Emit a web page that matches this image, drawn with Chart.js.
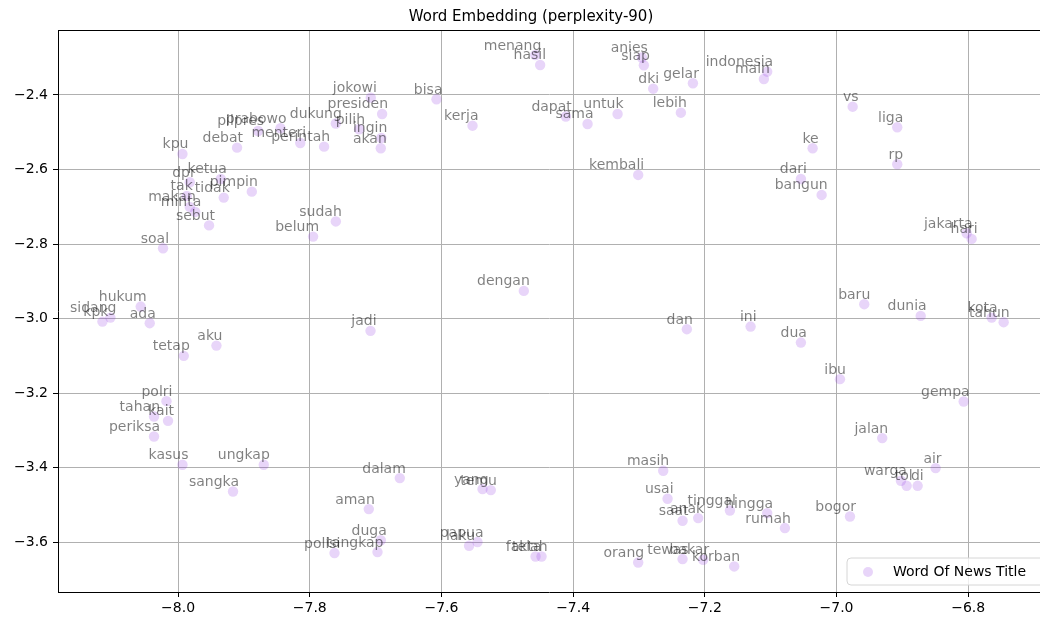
<!DOCTYPE html>
<html>
<head>
<meta charset="utf-8">
<script src="https://cdn.jsdelivr.net/npm/chart.js@4/dist/chart.umd.min.js"></script>
<style>
  html, body { margin: 0; padding: 0; background: #ffffff; }
  #wrap { width: 1040px; height: 620px; position: relative; }
</style>
</head>
<body>
<div id="wrap"><canvas id="c" width="1040" height="620"></canvas></div>
<script>
// t-SNE projection of title words
const chartTitle = 'Word Embedding (perplexity-90)';
const seriesName = 'Word Of News Title';

const words = [
  'kpu', 'debat', 'pilpres', 'prabowo', 'menteri', 'perintah', 'dukung', 'jokowi', 'presiden', 'pilih',
  'ingin', 'akan', 'bisa', 'kerja', 'menang', 'hasil', 'dapat', 'sama', 'untuk', 'anies',
  'siap', 'dki', 'gelar', 'lebih', 'indonesia', 'main', 'kembali', 'vs', 'liga', 'ke',
  'rp', 'dari', 'bangun', 'jakarta', 'hari', 'baru', 'dunia', 'kota', 'tahun', 'dua',
  'ibu', 'gempa', 'dan', 'ini', 'dengan', 'jadi', 'sudah', 'belum', 'soal', 'hukum',
  'sidang', 'kpk', 'ada', 'aku', 'tetap', 'polri', 'tahan', 'kait', 'periksa', 'kasus',
  'ungkap', 'sangka', 'dalam', 'aman', 'duga', 'tangkap', 'polisi', 'laku', 'papua', 'yang',
  'temu', 'fakta', 'telah', 'masih', 'usai', 'saat', 'anak', 'tinggal', 'hingga', 'rumah',
  'orang', 'tewas', 'bakar', 'korban', 'jalan', 'air', 'warga', 'tol', 'di', 'bogor',
  'ketua', 'dpr', 'pimpin', 'tidak', 'tak', 'makan', 'minta', 'sebut'
];

const xs = [
  -7.9933, -7.9104, -7.8785, -7.8444, -7.8144, -7.7782, -7.7604, -7.7073, -7.6901, -7.7250,
  -7.6913, -7.6921, -7.6075, -7.5528, -7.4574, -7.4501, -7.4111, -7.3781, -7.3325, -7.2956,
  -7.2926, -7.2784, -7.2181, -7.2364, -7.1053, -7.1103, -7.3012, -6.9755, -6.9078, -7.0363,
  -6.9078, -7.0541, -7.0226, -6.8024, -6.7948, -6.9579, -6.8722, -6.7644, -6.7462, -7.0541,
  -6.9948, -6.8069, -7.2273, -7.1305, -7.4749, -7.7077, -7.7604, -7.7949, -8.0228, -8.0567,
  -8.1027, -8.1148, -8.0430, -7.9417, -7.9913, -8.0176, -8.0365, -8.0152, -8.0365, -7.9933,
  -7.8698, -7.9165, -7.6632, -7.7103, -7.6921, -7.6971, -7.7624, -7.5580, -7.5452, -7.5376,
  -7.5250, -7.4571, -7.4480, -7.2632, -7.2566, -7.2338, -7.2101, -7.1619, -7.1053, -7.0784,
  -7.3012, -7.2338, -7.2025, -7.1554, -6.9306, -6.8495, -6.9022, -6.8935, -6.8768, -6.9796,
  -7.9351, -7.9822, -7.8880, -7.9306, -7.9868, -7.9822, -7.9739, -7.9529
];

const ys = [
  -2.5583, -2.5414, -2.4966, -2.4893, -2.5288, -2.5387, -2.4765, -2.4072, -2.4510, -2.4920,
  -2.5154, -2.5430, -2.4115, -2.4824, -2.2927, -2.3195, -2.4577, -2.4778, -2.4510, -2.2994,
  -2.3203, -2.3831, -2.3686, -2.4475, -2.3375, -2.3571, -2.6146, -2.4314, -2.4867, -2.5430,
  -2.5859, -2.6254, -2.6683, -2.7710, -2.7863, -2.9615, -2.9929, -2.9975, -3.0098, -3.0645,
  -3.1627, -3.2228, -3.0286, -3.0216, -2.9258, -3.0331, -2.7394, -2.7801, -2.8113, -2.9679,
  -2.9975, -3.0082, -3.0125, -3.0726, -3.1002, -3.2217, -3.2630, -3.2746, -3.3167, -3.3926,
  -3.3926, -3.4643, -3.4283, -3.5115, -3.5952, -3.6268, -3.6295, -3.6099, -3.6000, -3.4578,
  -3.4605, -3.6387, -3.6387, -3.4087, -3.4838, -3.5429, -3.5356, -3.5152, -3.5222, -3.5624,
  -3.6547, -3.6456, -3.6475, -3.6654, -3.3210, -3.4015, -3.4356, -3.4490, -3.4490, -3.5313,
  -2.6254, -2.6342, -2.6594, -2.6755, -2.6710, -2.7005, -2.7139, -2.7501
];

const xTicks = [-8.0, -7.8, -7.6, -7.4, -7.2, -7.0, -6.8];
const yTicks = [-2.4, -2.6, -2.8, -3.0, -3.2, -3.4, -3.6];
const xRange = [-8.1823, -6.6910];
const yRange = [-3.7340, -2.2256];

const FONT = '"DejaVu Sans", "Liberation Sans", sans-serif';
const pointFill = 'rgba(138, 43, 226, 0.2)';

const points = words.map((w, i) => ({ x: xs[i], y: ys[i], word: w }));

const fmtTick = v => (v < 0 ? '\u2212' : '') + Math.abs(v).toFixed(1);

// word annotations, title, top spine and legend box
const decorations = {
  id: 'decorations',
  afterDatasetsDraw(chart) {
    const ctx = chart.ctx;
    const area = chart.chartArea;
    const meta = chart.getDatasetMeta(0);

    ctx.save();
    ctx.beginPath();
    ctx.rect(area.left, area.top, area.right - area.left, area.bottom - area.top);
    ctx.clip();
    ctx.font = '14px ' + FONT;
    ctx.fillStyle = 'rgba(0,0,0,0.5)';
    ctx.textAlign = 'right';
    ctx.textBaseline = 'alphabetic';
    meta.data.forEach((el, i) => {
      ctx.fillText(points[i].word, el.x + 6, el.y - 5.5);
    });
    ctx.restore();
  },
  afterDraw(chart) {
    const ctx = chart.ctx;
    const area = chart.chartArea;

    // top spine
    ctx.save();
    ctx.strokeStyle = '#000000';
    ctx.lineWidth = 1;
    ctx.beginPath();
    ctx.moveTo(area.left, area.top + 0.5);
    ctx.lineTo(area.right, area.top + 0.5);
    ctx.stroke();

    // title
    ctx.fillStyle = '#000000';
    ctx.font = '15px ' + FONT;
    ctx.textAlign = 'center';
    ctx.textBaseline = 'alphabetic';
    ctx.fillText(chartTitle, 531, area.top - 9);

    // legend
    const bx = area.right - 193, by = area.bottom - 34, bw = 215, bh = 27, r = 4;
    ctx.beginPath();
    ctx.moveTo(bx + r, by);
    ctx.lineTo(bx + bw - r, by);
    ctx.arcTo(bx + bw, by, bx + bw, by + r, r);
    ctx.lineTo(bx + bw, by + bh - r);
    ctx.arcTo(bx + bw, by + bh, bx + bw - r, by + bh, r);
    ctx.lineTo(bx + r, by + bh);
    ctx.arcTo(bx, by + bh, bx, by + bh - r, r);
    ctx.lineTo(bx, by + r);
    ctx.arcTo(bx, by, bx + r, by, r);
    ctx.closePath();
    ctx.fillStyle = 'rgba(255,255,255,0.8)';
    ctx.fill();
    ctx.strokeStyle = '#d6d6d6';
    ctx.lineWidth = 1;
    ctx.stroke();

    ctx.beginPath();
    ctx.arc(bx + 21, by + 14, 5, 0, Math.PI * 2);
    ctx.fillStyle = pointFill;
    ctx.fill();

    ctx.fillStyle = '#000000';
    ctx.font = '14px ' + FONT;
    ctx.textAlign = 'left';
    ctx.textBaseline = 'middle';
    ctx.fillText(seriesName, bx + 46, by + 14);
    ctx.restore();
  }
};

new Chart(document.getElementById('c'), {
  type: 'scatter',
  data: {
    datasets: [{
      label: seriesName,
      data: points,
      backgroundColor: pointFill,
      borderWidth: 0,
      pointRadius: 5.2,
      pointHoverRadius: 5.2
    }]
  },
  options: {
    responsive: false,
    animation: false,
    devicePixelRatio: 1,
    layout: { autoPadding: false, padding: { top: 30, left: 0, right: 0, bottom: 0 } },
    plugins: {
      legend: { display: false },
      title: { display: false },
      tooltip: { enabled: false }
    },
    scales: {
      x: {
        type: 'linear',
        min: xRange[0],
        max: xRange[1],
        afterBuildTicks: s => { s.ticks = xTicks.map(v => ({ value: v })); },
        afterFit: s => { s.height = 28; s.paddingLeft = 0; s.paddingRight = 0; },
        ticks: {
          callback: v => fmtTick(v),
          color: '#000000',
          font: { family: FONT, size: 14 },
          padding: 3,
          maxRotation: 0,
          autoSkip: false
        },
        grid: { color: '#b0b0b0', lineWidth: 1, tickColor: '#000000', tickLength: 5, drawTicks: true },
        border: { display: true, color: '#000000', width: 1 }
      },
      y: {
        type: 'linear',
        min: yRange[0],
        max: yRange[1],
        afterBuildTicks: s => { s.ticks = yTicks.map(v => ({ value: v })); },
        afterFit: s => { s.width = 58; s.paddingTop = 0; s.paddingBottom = 0; },
        ticks: {
          callback: v => fmtTick(v),
          color: '#000000',
          font: { family: FONT, size: 14 },
          padding: 5,
          autoSkip: false
        },
        grid: { color: '#b0b0b0', lineWidth: 1, tickColor: '#000000', tickLength: 5, drawTicks: true },
        border: { display: true, color: '#000000', width: 1 }
      }
    }
  },
  plugins: [decorations]
});
</script>
</body>
</html>
